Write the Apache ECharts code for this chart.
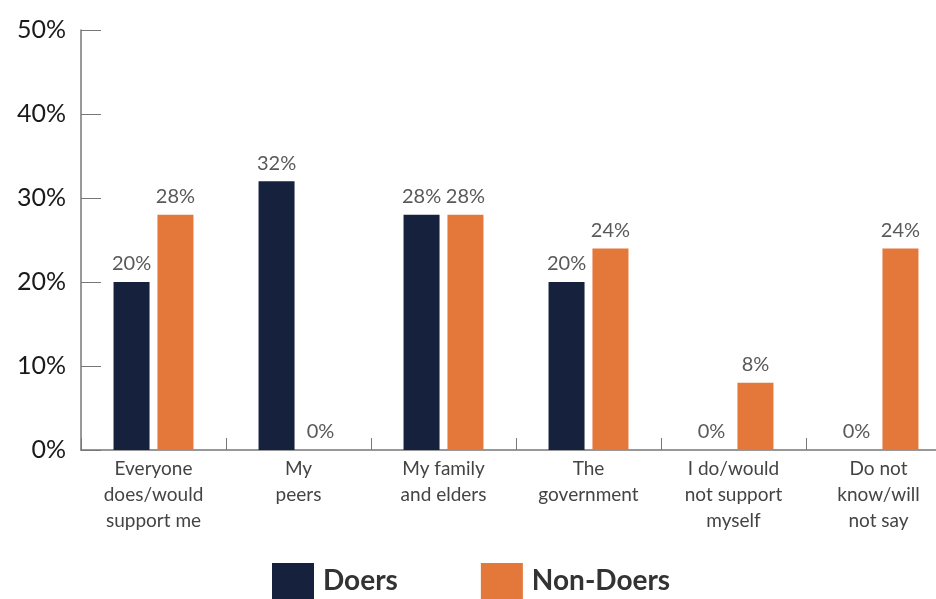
<!DOCTYPE html>
<html>
<head>
<meta charset="utf-8">
<script src="https://cdn.jsdelivr.net/npm/echarts@6/dist/echarts.min.js"></script>
<style>
  html, body { margin: 0; padding: 0; background: #fff; overflow: hidden; }
  #chart { width: 952px; height: 599px; }
</style>
</head>
<body>
<div id="chart"></div>
<script>
// 分类与数据
var categories = [
  'Everyone\ndoes/would\nsupport me',
  'My\npeers',
  'My family\nand elders',
  'The\ngovernment',
  'I do/would\nnot support\nmyself',
  'Do not\nknow/will\nnot say'
];
var doers = [20, 32, 28, 20, 0, 0];
var nonDoers = [28, 0, 28, 24, 8, 24];
var yTicks = [0, 10, 20, 30, 40, 50];

// 图表比窗口略宽，最后一类右侧被裁掉
var chart = echarts.init(document.getElementById('chart'));

var labelStyle = {
  show: true,
  position: 'top',
  distance: 8,
  formatter: '{c}%',
  fontFamily: 'Lato',
  fontSize: 20,
  color: '#595959'
};

var option = {
  animation: false,
  textStyle: { fontFamily: 'Lato' },
  grid: { left: 81, right: 1, top: 30, bottom: 149 },
  legend: {
    top: 558,
    left: 267,
    icon: 'rect',
    itemWidth: 42,
    itemHeight: 36,
    itemGap: 83,
    textStyle: { fontSize: 28, fontWeight: 'bold', color: '#333', padding: [6, 0, 0, 4] },
    data: ['Doers', 'Non-Doers']
  },
  xAxis: {
    type: 'category',
    data: categories,
    axisLine: { lineStyle: { color: '#777', width: 1.5 } },
    axisTick: { show: true, inside: true, length: 12, lineStyle: { color: '#777' } },
    axisLabel: { fontSize: 19, color: '#444', lineHeight: 26, margin: 6, interval: 0 }
  },
  yAxis: {
    type: 'value',
    min: yTicks[0],
    max: yTicks[yTicks.length - 1],
    interval: 10,
    axisLine: { show: true, lineStyle: { color: '#777', width: 1.5 } },
    axisTick: { show: true, inside: true, length: 20, lineStyle: { color: '#777' } },
    splitLine: { show: false },
    axisLabel: { formatter: '{value}%', fontSize: 25, color: '#1a1a1a', margin: 15 }
  },
  series: [
    {
      name: 'Doers',
      type: 'bar',
      data: doers,
      barWidth: 36,
      barGap: '22%',
      itemStyle: { color: '#16213d' },
      label: labelStyle
    },
    {
      name: 'Non-Doers',
      type: 'bar',
      data: nonDoers,
      barWidth: 36,
      itemStyle: { color: '#e3783a' },
      label: labelStyle
    }
  ]
};

chart.setOption(option);
</script>
</body>
</html>
